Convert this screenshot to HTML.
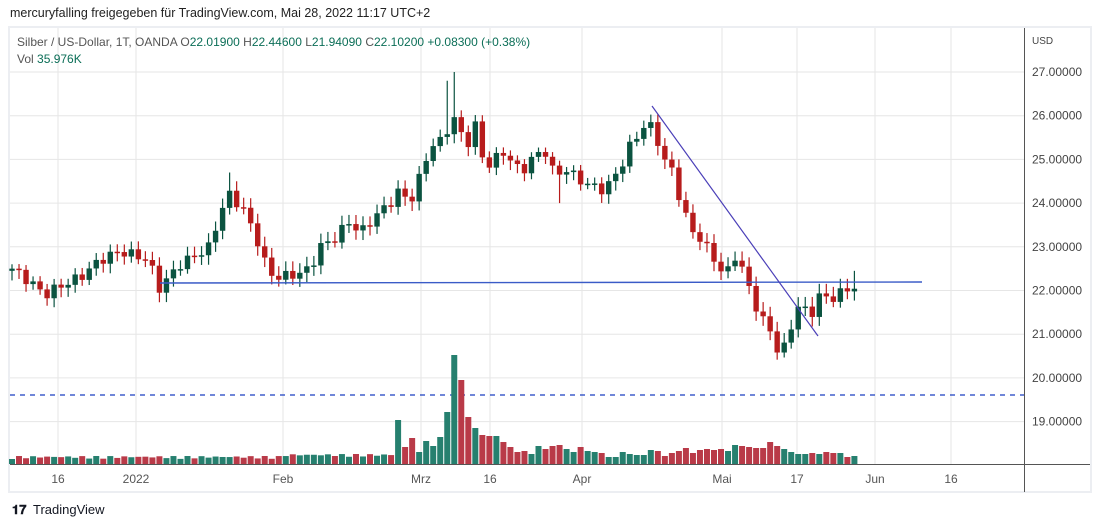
<!DOCTYPE html>
<html><head><meta charset="utf-8">
<style>
body{margin:0;background:#fff;font-family:"Liberation Sans",sans-serif;}
#w{position:relative;width:1100px;height:527px;overflow:hidden;}
</style></head><body><div id="w">
<svg id="s" width="1100" height="527" xmlns="http://www.w3.org/2000/svg" font-family="Liberation Sans, sans-serif"></svg>
</div>
<script>
var s=document.getElementById('s');var h='';
function Y(p){return 290.5-(p-22)*43.7;}
h+='<rect x="9" y="27" width="1082" height="465" fill="#fff" stroke="#eceef2" stroke-width="2"/>';
for(var p=19;p<=27;p++){h+='<line x1="10" x2="1024" y1="'+Y(p)+'" y2="'+Y(p)+'" stroke="#e6e6e6"/>';}
var tl=[[58,'16'],[136,'2022'],[283,'Feb'],[421,'Mrz'],[490,'16'],[582,'Apr'],[722,'Mai'],[797,'17'],[875,'Jun'],[951,'16']];
tl.forEach(function(t){h+='<line x1="'+t[0]+'" x2="'+t[0]+'" y1="28" y2="464" stroke="#e6e6e6"/>';h+='<text x="'+t[0]+'" y="483" font-size="12" fill="#555" text-anchor="middle">'+t[1]+'</text>';});
h+='<line x1="1024.5" x2="1024.5" y1="28" y2="492" stroke="#555"/>';
h+='<line x1="10" x2="1090" y1="464.5" y2="464.5" stroke="#555"/>';
for(var p=19;p<=27;p++){h+='<text x="1032" y="'+(Y(p)+4)+'" font-size="12" fill="#444">'+p+'.00000</text>';}
h+='<text x="1032" y="44" font-size="10" fill="#444">USD</text>';
h+='<line x1="10" x2="1024" y1="395" y2="395" stroke="#1a3fc0" stroke-width="1.2" stroke-dasharray="5,5"/>';
var kp=[[12,22.5],[30,22.2],[45,21.9],[60,22.1],[80,22.3],[100,22.7],[120,22.9],[150,22.7],[157,22.0],[165,22.2],[180,22.6],[210,23.0],[220,23.8],[230,24.2],[245,23.8],[260,23.0],[268,22.4],[280,22.3],[300,22.4],[310,22.5],[320,23.0],[335,23.2],[350,23.6],[360,23.3],[375,23.7],[390,24.0],[400,24.3],[410,24.0],[420,24.6],[430,25.3],[440,25.4],[450,25.8],[457,26.0],[465,25.2],[475,25.8],[485,24.8],[495,25.0],[505,25.2],[515,24.8],[525,24.8],[535,25.1],[545,25.2],[555,24.6],[565,24.8],[575,24.6],[590,24.4],[605,24.3],[620,24.8],[630,25.3],[645,25.8],[655,25.7],[662,25.0],[670,24.9],[680,24.1],[690,23.4],[700,23.2],[715,22.7],[725,22.3],[735,22.8],[742,22.5],[750,22.0],[760,21.4],[770,21.1],[778,20.6],[785,20.7],[795,21.5],[800,21.7],[810,21.4],[820,21.9],[830,21.8],[845,22.0],[855,22.1]];
function interp(x){for(var k=1;k<kp.length;k++){if(x<=kp[k][0]){var a=kp[k-1],b=kp[k];return a[1]+(b[1]-a[1])*(x-a[0])/(b[0]-a[0]);}}return kp[kp.length-1][1];}
var N=121,cl=[];
for(var i=0;i<N;i++){var x=12+i*7.02;cl.push(interp(x)+0.12*Math.sin(i*2.3));}
var vol=[];
var vm={55:44,56:17,57:26,58:12,59:23,60:18,61:27,62:52,63:109,64:84,65:47,66:36,67:29,68:28,69:28,70:22,71:17,72:12,73:13,74:10,75:18,76:15,77:18,78:19,79:15,80:12,81:17,82:13,83:12,84:11,85:7,86:7,87:12,88:10,89:9,90:9,91:14,92:13,93:8,94:11,95:13,96:16,97:11,98:14,99:15,100:14,101:15,102:13,103:19,104:18,105:17,106:16,107:16,108:22,109:18,110:15,111:12,112:10,113:10,114:11,115:10,116:12,117:11,118:11,119:7,120:8};
for(var i=0;i<N;i++){vol.push(vm[i]||(5+3*Math.abs(Math.sin(i*1.7))+(i>38&&i<55?2:0)));}
var cand='',vb='';
for(var i=0;i<N;i++){
 var x=12+i*7.02;var o=i?cl[i-1]:22.45;var c=cl[i];
 var up=c>=o;var col=up?'#0b5340':'#b71c1c';var vc=up?'#26806f':'#b93a48';
 var hi=Math.max(o,c)+0.1+0.12*Math.abs(Math.sin(i*3.1));var lo=Math.min(o,c)-0.1-0.12*Math.abs(Math.cos(i*2.7));
 if(i==63)hi=27.0;if(i==62)hi=26.8;if(i==78)lo=24.0;if(i==31)hi=24.7;if(i==120)hi=22.45;
 var yt=Y(Math.max(o,c)),yb=Y(Math.min(o,c));if(yb-yt<1.5)yb=yt+1.5;
 cand+='<line x1="'+x+'" x2="'+x+'" y1="'+Y(hi)+'" y2="'+Y(lo)+'" stroke="'+col+'" stroke-width="1.2"/>';
 cand+='<rect x="'+(x-2.7)+'" y="'+yt+'" width="5.4" height="'+(yb-yt)+'" fill="'+col+'"/>';
 vb+='<rect x="'+(x-3)+'" y="'+(464-vol[i])+'" width="6" height="'+vol[i]+'" fill="'+vc+'"/>';
}
h+=vb+cand;
h+='<line x1="160" x2="922" y1="283" y2="282" stroke="#3a5bc7" stroke-width="1.4"/>';
h+='<line x1="652" x2="818" y1="106" y2="336" stroke="#4a3fb8" stroke-width="1.2"/>';
h+='<text x="10" y="17" font-size="12.5" fill="#222">mercuryfalling freigegeben für TradingView.com, Mai 28, 2022 11:17 UTC+2</text>';
h+='<text x="17" y="46" font-size="12" fill="#555">Silber / US-Dollar, 1T, OANDA <tspan fill="#555">O</tspan><tspan fill="#0b6e57">22.01900</tspan> <tspan fill="#555">H</tspan><tspan fill="#0b6e57">22.44600</tspan> <tspan fill="#555">L</tspan><tspan fill="#0b6e57">21.94090</tspan> <tspan fill="#555">C</tspan><tspan fill="#0b6e57">22.10200</tspan> <tspan fill="#0b6e57">+0.08300 (+0.38%)</tspan></text>';
h+='<text x="17" y="63" font-size="12" fill="#555">Vol <tspan fill="#0b6e57">35.976K</tspan></text>';
h+='<text x="12" y="514" font-size="13" font-weight="bold" fill="#131722">𝟏𝟕</text>';
h+='<text x="33" y="514" font-size="13" fill="#131722">TradingView</text>';
s.innerHTML=h;
</script>
</body></html>
